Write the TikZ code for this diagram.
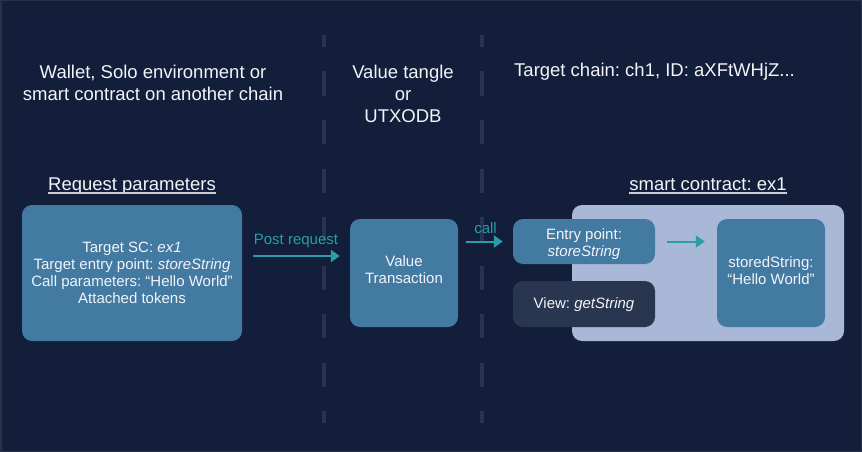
\documentclass[tikz,border=0pt]{standalone}
\usepackage{fontspec}
\setmainfont{Liberation Sans}
\frenchspacing
\usetikzlibrary{calc,arrows.meta}
\definecolor{bg}{HTML}{121E3A}
\definecolor{frameline}{HTML}{27314B}
\definecolor{boxblue}{HTML}{437AA2}
\definecolor{lightbox}{HTML}{A9B8D6}
\definecolor{darkbox}{HTML}{29364F}
\definecolor{teal}{HTML}{2A9DA6}
\definecolor{dashcol}{HTML}{28344F}
\definecolor{ulcol}{HTML}{CFCFD4}
\definecolor{txt}{HTML}{F2F4F8}
\begin{document}
\begin{tikzpicture}[x=1pt,y=-1pt,
  bluebox/.style={fill=boxblue,rounded corners=10pt,text=txt,align=center,
    font=\fontsize{15}{17}\selectfont,inner sep=0pt},
  boxtext/.style={text=txt,align=center,font=\fontsize{15}{17}\selectfont,inner sep=0pt},
  headtext/.style={text=txt,align=center,font=\fontsize{18.5}{22}\selectfont,inner sep=0pt},
  lane/.style={draw=dashcol,line width=4pt,dash pattern=on 24pt off 24.5pt,dash phase=12pt},
  flow/.style={draw=teal,line width=2pt,-{Triangle[length=9pt,width=12pt]}},
  flowlabel/.style={text=teal,font=\fontsize{15}{17}\selectfont,inner sep=0pt},
  uline/.style={draw=ulcol,line width=1.3pt}]
\fill[bg] (0,0) rectangle (862,452);
\draw[frameline,line width=1.5pt] (0.75,0.75) rectangle (861.25,451.25);
\useasboundingbox (0,0) rectangle (862,452);
% lanes
\coordinate (l1a) at (324,35); \coordinate (l1b) at (324,423);
\coordinate (l2a) at (482,35); \coordinate (l2b) at (482,423);
\draw[lane] (l1a) -- (l1b);
\draw[lane] (l2a) -- (l2b);
% top labels
\node[headtext] (src) at (153,83) {Wallet, Solo environment or\\smart contract on another chain};
\node[headtext] (tangle) at (403,94) {Value tangle\\or\\UTXODB};
\node[headtext,anchor=west] (chain) at (514,72) {Target chain: ch1, ID: aXFtWHjZ...};
% section titles
\node[headtext,anchor=base] (reqt) at (132,190.5) {Request parameters};
\draw[uline] ($(reqt.base west)+(0,2.5)$) -- ($(reqt.base east)+(0,2.5)$);
\node[headtext,anchor=base] (sct) at (708,190.5) {smart contract: ex1};
\draw[uline] ($(sct.base west)+(0,2.5)$) -- ($(sct.base east)+(0,2.5)$);
% boxes
\node[bluebox,minimum width=220pt,minimum height=136pt] (req) at (132,273)
  {Target SC: \textit{ex1}\\Target entry point: \textit{storeString}\\Call parameters: “Hello World”\\Attached tokens};
\node[bluebox,minimum width=108pt,minimum height=108pt] (vt) at (404,273) {};
\node[boxtext] (vtt) at ([yshift=3.5pt]vt.center) {Value\\Transaction};
\node[fill=lightbox,rounded corners=10pt,minimum width=272pt,minimum height=136pt,inner sep=0pt] (sc) at (708,273) {};
\node[bluebox,minimum width=142pt,minimum height=45pt] (entry) at (584,241.5) {};
\node[boxtext] (entryt) at ([yshift=-3pt]entry.center) {Entry point:\\\textit{storeString}};
\node[bluebox,fill=darkbox,minimum width=142pt,minimum height=46pt] (view) at (584,304) {};
\node[boxtext] (viewt) at ([yshift=-1pt]view.center) {View: \textit{getString}};
\node[bluebox,minimum width=108pt,minimum height=108pt] (stored) at (771,273) {};
\node[boxtext] (storedt) at ([yshift=2pt]stored.center) {storedString:\\“Hello World”};
% connectors
\draw[flow,shorten <=11pt,shorten >=10pt] ($(req.east)+(0,-17)$) -- ($(vt.west)+(0,-17)$)
  node[flowlabel,midway,above=7pt] (postl) {Post request};
\draw[flow,shorten <=8pt,shorten >=10pt] (vt.east |- entry.west) -- (entry.west)
  node[flowlabel,midway,above=7pt] (calll) {call};
\draw[flow,shorten <=12pt,shorten >=12pt] (entry.east) -- (stored.west |- entry.east);
\end{tikzpicture}
\end{document}
